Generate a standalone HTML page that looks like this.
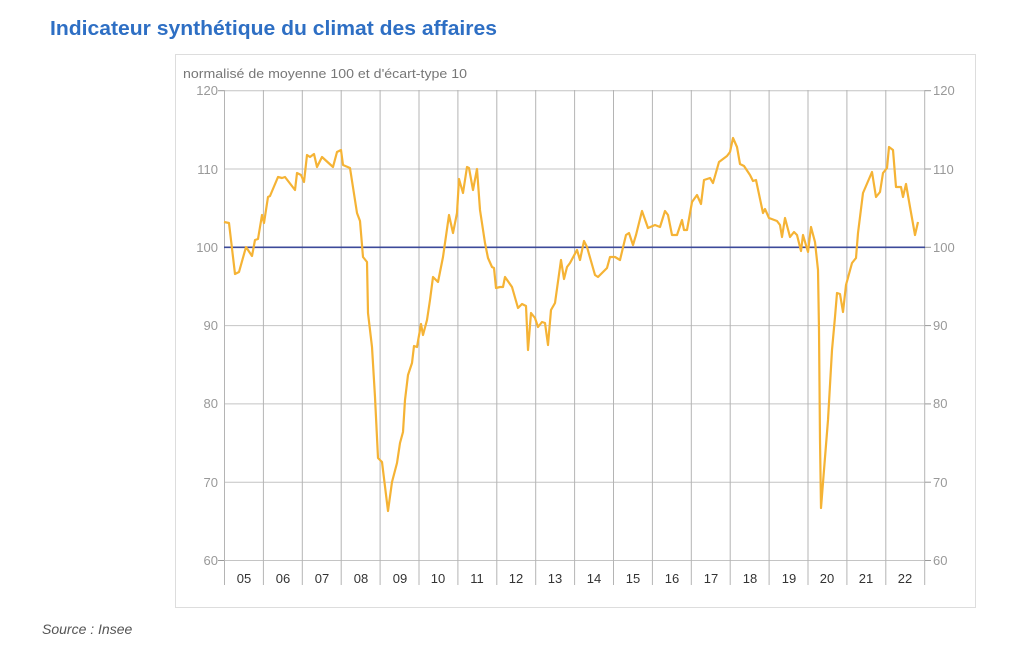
<!DOCTYPE html>
<html><head><meta charset="utf-8"><style>
body{margin:0;background:#fff;width:1024px;height:665px;overflow:hidden;font-family:"Liberation Sans",sans-serif}
</style></head><body>
<svg width="1024" height="665" xmlns="http://www.w3.org/2000/svg" font-family="Liberation Sans, sans-serif">
<text x="50" y="35" font-size="20" font-weight="bold" fill="#2e6fc4" textLength="447" lengthAdjust="spacingAndGlyphs">Indicateur synthétique du climat des affaires</text>
<rect x="175.5" y="54.5" width="800" height="553" fill="#fff" stroke="#ddd"/>
<text x="183" y="78" font-size="12.5" fill="#777" textLength="284" lengthAdjust="spacingAndGlyphs">normalisé de moyenne 100 et d'écart-type 10</text>
<g stroke="#c4c4c4" stroke-width="1">
<line x1="224" y1="90.7" x2="925" y2="90.7"/>
<line x1="224" y1="169" x2="925" y2="169"/>
<line x1="224" y1="325.6" x2="925" y2="325.6"/>
<line x1="224" y1="403.9" x2="925" y2="403.9"/>
<line x1="224" y1="482.2" x2="925" y2="482.2"/>
<line x1="224" y1="560.5" x2="925" y2="560.5"/>
</g>
<g stroke="#b4b4b4" stroke-width="1">
<line x1="224.5" y1="90" x2="224.5" y2="585"/>
<line x1="263.4" y1="90" x2="263.4" y2="585"/>
<line x1="302.3" y1="90" x2="302.3" y2="585"/>
<line x1="341.2" y1="90" x2="341.2" y2="585"/>
<line x1="380.1" y1="90" x2="380.1" y2="585"/>
<line x1="419" y1="90" x2="419" y2="585"/>
<line x1="457.9" y1="90" x2="457.9" y2="585"/>
<line x1="496.8" y1="90" x2="496.8" y2="585"/>
<line x1="535.7" y1="90" x2="535.7" y2="585"/>
<line x1="574.6" y1="90" x2="574.6" y2="585"/>
<line x1="613.5" y1="90" x2="613.5" y2="585"/>
<line x1="652.4" y1="90" x2="652.4" y2="585"/>
<line x1="691.3" y1="90" x2="691.3" y2="585"/>
<line x1="730.2" y1="90" x2="730.2" y2="585"/>
<line x1="769.1" y1="90" x2="769.1" y2="585"/>
<line x1="808" y1="90" x2="808" y2="585"/>
<line x1="846.9" y1="90" x2="846.9" y2="585"/>
<line x1="885.8" y1="90" x2="885.8" y2="585"/>
<line x1="924.7" y1="90" x2="924.7" y2="585"/>
</g>
<g stroke="#999"><line x1="925" y1="90.7" x2="931" y2="90.7"/><line x1="925" y1="169" x2="931" y2="169"/><line x1="925" y1="247.3" x2="931" y2="247.3"/><line x1="925" y1="325.6" x2="931" y2="325.6"/><line x1="925" y1="403.9" x2="931" y2="403.9"/><line x1="925" y1="482.2" x2="931" y2="482.2"/><line x1="925" y1="560.5" x2="931" y2="560.5"/><line x1="218" y1="90.7" x2="224" y2="90.7"/><line x1="218" y1="560.5" x2="224" y2="560.5"/></g>
<line x1="224" y1="247.3" x2="925" y2="247.3" stroke="#3c4a9a" stroke-width="1.6"/>
<g font-size="13" fill="#999" text-anchor="end">
<text x="218" y="95">120</text><text x="218" y="174">110</text><text x="218" y="252">100</text><text x="218" y="330">90</text><text x="218" y="408">80</text><text x="218" y="487">70</text><text x="218" y="565">60</text>
</g>
<g font-size="13" fill="#999" text-anchor="start">
<text x="933" y="95">120</text><text x="933" y="174">110</text><text x="933" y="252">100</text><text x="933" y="330">90</text><text x="933" y="408">80</text><text x="933" y="487">70</text><text x="933" y="565">60</text>
</g>
<g font-size="13" fill="#333" text-anchor="middle">
<text x="244" y="583">05</text><text x="283" y="583">06</text><text x="322" y="583">07</text><text x="361" y="583">08</text><text x="400" y="583">09</text><text x="438" y="583">10</text><text x="477" y="583">11</text><text x="516" y="583">12</text><text x="555" y="583">13</text><text x="594" y="583">14</text><text x="633" y="583">15</text><text x="672" y="583">16</text><text x="711" y="583">17</text><text x="750" y="583">18</text><text x="789" y="583">19</text><text x="827" y="583">20</text><text x="866" y="583">21</text><text x="905" y="583">22</text>
</g>
<polyline fill="none" stroke="#f5b335" stroke-width="2.2" stroke-linejoin="round" points="224,222 229,223 235,274 239,272 246,247 248,250 252,256 255,240 258,239 262,215 264,223 268,197 270,196 278,177 282,178 285,177 295,190 297,173 301,175 304,182 307,155 310,157 314,154 317,167 322,157 333,167 337,152 341,150 343,165 350,168 357,213 360,221 363,257 367,262 368,313 372,347 375,397 378,458 382,462 388,511 392,482 397,463 400,443 403,432 405,400 408,375 412,363 414,346 417,347 421,324 423,335 427,320 430,300 433,277 438,282 443,257 449,215 453,233 457,213 459,179 463,193 467,167 469,168 473,190 477,169 480,210 485,243 488,258 492,267 494,268 496,288 500,287 503,287 505,277 512,287 518,308 522,304 526,306 528,350 531,313 535,318 538,327 542,322 545,323 548,345 551,310 555,303 561,260 564,279 567,267 570,263 577,250 580,260 584,241 587,247 595,275 598,277 607,268 610,257 615,257 620,260 626,235 629,233 633,245 636,235 642,211 648,228 655,225 660,227 665,211 668,215 672,235 677,235 682,220 684,230 687,230 692,202 697,195 701,204 704,180 710,178 713,183 719,162 727,156 730,152 733,138 737,147 740,164 744,166 750,175 753,181 756,180 763,213 765,209 769,218 777,221 780,225 782,237 785,218 790,237 794,232 797,235 801,251 803,235 808,252 811,227 815,242 818,270 819,330 820,440 821,508 824,470 828,420 832,350 835,317 837,293 840,294 843,312 846,285 852,263 856,258 858,233 863,193 872,172 876,197 880,192 883,173 887,168 889,147 893,150 896,187 901,187 903,197 906,184 910,207 915,235 918,222"/>
<text x="42" y="634" font-size="14" font-style="italic" fill="#555">Source : Insee</text>
</svg>
</body></html>
